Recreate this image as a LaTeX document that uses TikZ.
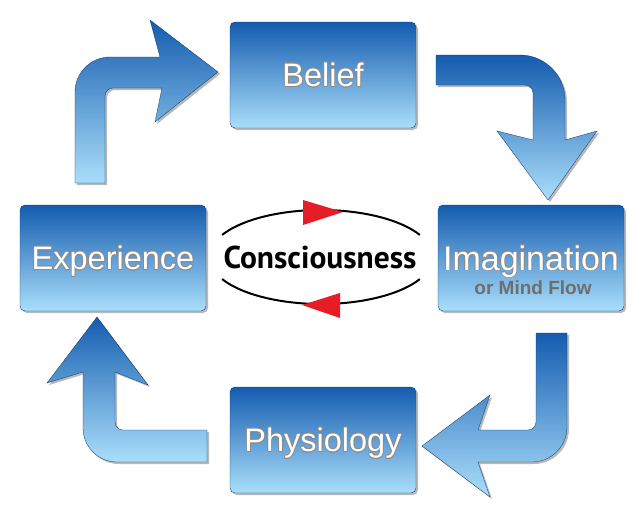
\documentclass[tikz,border=0pt]{standalone}
\usepackage{fontspec}
\setmainfont{Liberation Sans}
\newfontfamily\conscfont{PT Sans}
\usepackage{contour}
\usepackage{tikz}
\usetikzlibrary{positioning,calc,shadows}

\definecolor{bluetop}{RGB}{20,92,175}
\definecolor{bluebot}{RGB}{170,222,250}
\definecolor{flowgray}{RGB}{110,110,110}
\definecolor{tipred}{RGB}{230,28,38}

\contourlength{0.7pt}
\newcommand{\stagetext}[1]{\contour{black!45}{#1}}

\tikzset{
  stage/.style={rounded corners=5pt, minimum width=186pt, minimum height=106pt,
    inner sep=0pt, top color=bluetop, bottom color=bluebot,
    draw=bluetop!70!black, line width=0.4pt, text=white,
    drop shadow={shadow xshift=2pt, shadow yshift=-2pt, opacity=0.55},
    font=\fontsize{32.5}{36}\selectfont, text height=23pt, text depth=0pt},
  bendarrow/.style={top color=bluetop, bottom color=bluebot,
    draw=bluetop!60!black, line width=0.3pt,
    drop shadow={shadow xshift=2pt, shadow yshift=-2pt, opacity=0.55}},
  flowtext/.style={text=flowgray, font=\bfseries\fontsize{19}{22}\selectfont, inner sep=0pt},
  cycleline/.style={line width=2pt, black},
  redtip/.style={fill=tipred},
}

\begin{document}
\begin{tikzpicture}[x=1pt, y=-1pt]
        \useasboundingbox[fill=white] (0,0) rectangle (635,515);

        % Stages
        \node[stage] (belief) at (323,75) {\stagetext{Belief}};
        \node[stage, font=\fontsize{34}{38}\selectfont, text height=24pt] (imag) at (531,258) {\stagetext{Imagination}};
        \node[stage] (phys) at (323,440) {\stagetext{Physiology}};
        \node[stage] (exper) at (113,258) {\stagetext{Experience}};
        \node[flowtext] (flow) at ($(imag.center)+(2,30)$) {or Mind Flow};

        % Bent arrows
        \path[bendarrow] (75,183) -- (75,92) .. controls (75,72.7) and (90.7,57) .. (110,57)
            -- (160,57) -- (150,20) -- (218,72) -- (155,122) -- (162,88) -- (113,88)
            .. controls (108.6,88) and (105,91.6) .. (105,96) -- (105,183) -- cycle;
        \path[bendarrow] (436,55) -- (520,55) .. controls (544.8,55) and (565,75.2) .. (565,100)
            -- (565,140) -- (597,131) -- (548,200) -- (497,131) -- (533,140) -- (533,93)
            .. controls (533,88.6) and (529.4,85) .. (525,85) -- (436,85) -- cycle;
        \path[bendarrow] (536,333) -- (567,333) -- (567,427) .. controls (567,446.3) and (551.3,462) .. (532,462)
            -- (478,462) -- (490,497) -- (422,446) -- (490,395) -- (478,430) -- (528,430)
            .. controls (532.4,430) and (536,426.4) .. (536,422) -- cycle;
        \path[bendarrow] (207,430) -- (123,430) .. controls (118.6,430) and (115,426.4) .. (115,422)
            -- (115,372) -- (148,385) -- (97,317) -- (47,383) -- (83,372) -- (83,428)
            .. controls (83,446.8) and (98.2,462) .. (117,462) -- (207,462) -- cycle;

        % Consciousness loop
        \coordinate (ell) at (321,257);
        \node[font=\conscfont\bfseries\fontsize{31.5}{34}\selectfont, inner sep=0pt] (consc) at (320,257) {Consciousness};
        \draw[cycleline] ($(ell)+(152:112pt and 47pt)$) arc[start angle=152, end angle=28, x radius=112pt, y radius=47pt];
        \draw[cycleline] ($(ell)+(208:112pt and 47pt)$) arc[start angle=208, end angle=332, x radius=112pt, y radius=47pt];
        \fill[redtip] (303,200) -- (343,212) -- (303,225) -- cycle;
        \fill[redtip] (340,293) -- (302,305) -- (340,318) -- cycle;
    \end{tikzpicture}
\end{document}
